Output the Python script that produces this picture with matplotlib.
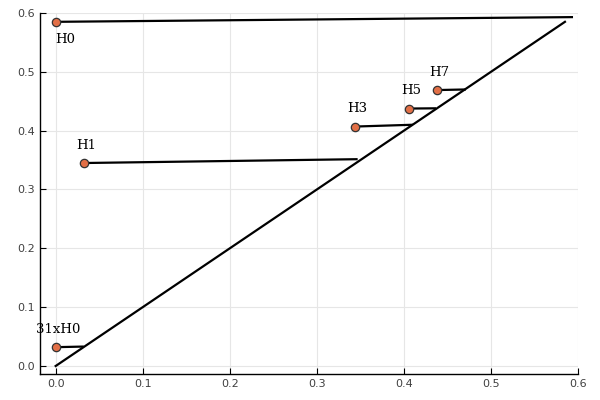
import matplotlib.pyplot as plt
import numpy as np

# puntos (nacimiento, muerte) y extremo de cada segmento
labels = ["H0", "H1", "H3", "H5", "H7", "31xH0"]
birth = [0.0, 0.032, 0.344, 0.406, 0.4376, 0.0]
death = [0.585, 0.345, 0.407, 0.4376, 0.469, 0.032]
end_x = [0.593, 0.3456, 0.409, 0.4356, 0.470, 0.031]
end_y = [0.593, 0.3515, 0.410, 0.438, 0.470, 0.033]
diag = [0.0, 0.585]

xticks = [0.0, 0.1, 0.2, 0.3, 0.4, 0.5, 0.6]
yticks = [0.0, 0.1, 0.2, 0.3, 0.4, 0.5, 0.6]

fig = plt.figure(figsize=(6, 4), dpi=100)
ax = fig.add_axes([40/600, 26/400, 538/600, 361/400])

ax.plot(diag, diag, color="black", lw=1.6, zorder=2)
for b, d, ex, ey in zip(birth, death, end_x, end_y):
    ax.plot([b, ex], [d, ey], color="black", lw=1.6, zorder=2)

ax.scatter(birth, death, s=36, color="#e26f46", edgecolors="#333333",
           linewidths=0.9, zorder=3)

for lab, b, d in zip(labels, birth, death):
    if lab == "H0":
        ax.text(b, d - 0.03, lab, ha="left", va="center", fontsize=9.5,
                family="DejaVu Serif")
    else:
        ax.text(b + 0.003, d + 0.03, lab, ha="center", va="center",
                fontsize=9.5, family="DejaVu Serif")

ax.set_xlim(-0.018, 0.6)
ax.set_ylim(-0.0136, 0.6)
ax.set_xticks(xticks)
ax.set_yticks(yticks)
ax.set_xticklabels([f"{t:.1f}" for t in xticks])
ax.set_yticklabels([f"{t:.1f}" for t in yticks])
ax.grid(True, color="#e6e6e6", lw=0.8)
ax.set_axisbelow(True)
for s in ["top", "right"]:
    ax.spines[s].set_visible(False)
for s in ["left", "bottom"]:
    ax.spines[s].set_linewidth(1.0)
ax.tick_params(direction="in", length=4, labelsize=8, labelcolor="#404040")

fig.savefig("out.png", dpi=100)
